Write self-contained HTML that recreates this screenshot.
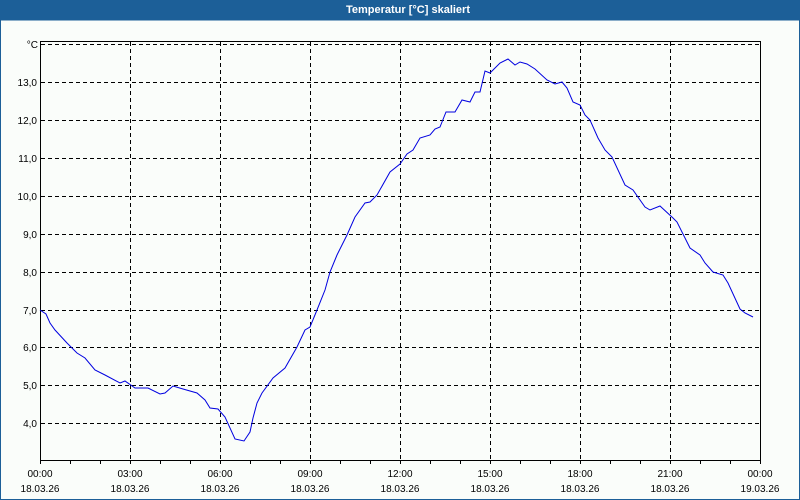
<!DOCTYPE html>
<html><head><meta charset="utf-8"><style>
html,body{margin:0;padding:0;background:#fafdfa;}
body{width:800px;height:500px;overflow:hidden;position:relative;font-family:"Liberation Sans",sans-serif;}
</style></head><body>
<svg width="800" height="500" xmlns="http://www.w3.org/2000/svg" style="position:absolute;left:0;top:0">
<rect x="0" y="0" width="800" height="500" fill="#fafdfa"/>
<rect x="0" y="0" width="800" height="20.5" fill="#1c5f98"/>
<rect x="0" y="0" width="1" height="500" fill="#1c5f98"/>
<rect x="799" y="0" width="1" height="500" fill="#1c5f98"/>
<rect x="0" y="499" width="800" height="1" fill="#1c5f98"/>
<text x="408" y="13" text-anchor="middle" font-size="11" font-weight="bold" fill="#fff">Temperatur [°C] skaliert</text>
<g stroke="#000" stroke-width="1" stroke-dasharray="4,3" fill="none">
<path d="M41 44.5H760M41 82.5H760M41 120.5H760M41 158.5H760M41 196.5H760M41 234.5H760M41 272.5H760M41 310.5H760M41 347.5H760M41 385.5H760M41 423.5H760"/>
<path d="M130.5 42V460M220.5 42V460M310.5 42V460M400.5 42V460M490.5 42V460M580.5 42V460M670.5 42V460"/>
</g>
<rect x="40.5" y="41.5" width="720" height="419" fill="none" stroke="#000"/>
<g stroke="#000"><path d="M70.5 461v3M100.5 461v3M130.5 461v3M160.5 461v3M190.5 461v3M220.5 461v3M250.5 461v3M280.5 461v3M310.5 461v3M340.5 461v3M370.5 461v3M400.5 461v3M430.5 461v3M460.5 461v3M490.5 461v3M520.5 461v3M550.5 461v3M580.5 461v3M610.5 461v3M640.5 461v3M670.5 461v3M700.5 461v3M730.5 461v3M40.5 461v3M760.5 461v3"/></g>
<g font-size="10" fill="#000" text-anchor="end">
<text x="38" y="48">°C</text>
<text x="37" y="86">13,0</text><text x="37" y="124">12,0</text><text x="37" y="162">11,0</text><text x="37" y="200">10,0</text><text x="37" y="238">9,0</text><text x="37" y="276">8,0</text><text x="37" y="314">7,0</text><text x="37" y="351">6,0</text><text x="37" y="389">5,0</text><text x="37" y="427">4,0</text>
</g>
<g font-size="10" fill="#000" text-anchor="middle">
<text x="40" y="477">00:00</text><text x="40" y="492">18.03.26</text>
<text x="130" y="477">03:00</text><text x="130" y="492">18.03.26</text>
<text x="220" y="477">06:00</text><text x="220" y="492">18.03.26</text>
<text x="310" y="477">09:00</text><text x="310" y="492">18.03.26</text>
<text x="400" y="477">12:00</text><text x="400" y="492">18.03.26</text>
<text x="490" y="477">15:00</text><text x="490" y="492">18.03.26</text>
<text x="580" y="477">18:00</text><text x="580" y="492">18.03.26</text>
<text x="670" y="477">21:00</text><text x="670" y="492">18.03.26</text>
<text x="760" y="477">00:00</text><text x="760" y="492">19.03.26</text>
</g>
<polyline fill="none" stroke="#0000e0" stroke-width="1" points="40,310 46,314 50,323 55,330 67,343 77,353 85,358 95,370 105,375 120,383 125,381 135,388 148,388 160,394 165,393 173,386 183,389 197,393 205,400 210,408 218,409 225,417 235,439 244,441 250,432 253,418 257,403 262,393 273,378 285,368 297,347 305,330 310,327 317,310 325,290 330,272 337,255 347,235 355,217 365,203 370,202 377,195 390,172 400,164 407,154 413,150 420,138 430,135 435,129 440,127 446,112 455,112 462,100 470,102 475,92 480,92 485,71 490,73 500,63 508,59 515,65 520,62 527,64 535,69 547,80 555,84 562,82 567,88 573,102 580,105 585,115 590,120 598,138 605,150 612,157 625,185 633,190 645,207 650,210 660,206 673,218 677,222 690,248 700,255 705,263 713,272 723,275 728,283 740,309 745,313 753,317"/>
</svg>
</body></html>
